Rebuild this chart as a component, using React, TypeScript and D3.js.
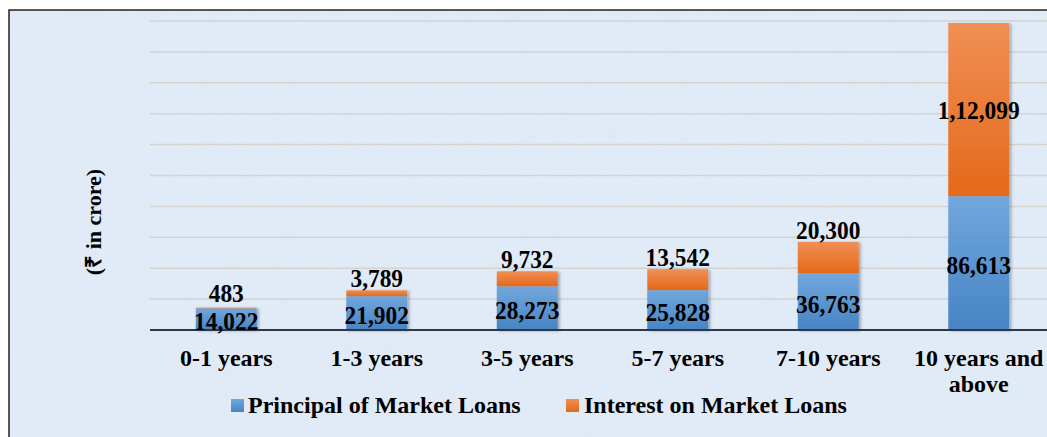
import React from "react";
import * as d3 from "d3";

const categories: string[][] = [
  ["0-1 years"],
  ["1-3 years"],
  ["3-5 years"],
  ["5-7 years"],
  ["7-10 years"],
  ["10 years and", "above"],
];
const principal: number[] = [14022, 21902, 28273, 25828, 36763, 86613];
const interest: number[] = [483, 3789, 9732, 13542, 20300, 112099];
const seriesNames: string[] = ["Principal of Market Loans", "Interest on Market Loans"];
const yTicks: number[] = [0, 20000, 40000, 60000, 80000, 100000, 120000, 140000, 160000, 180000, 200000];
const yTitle = "(₹ in crore)";

const W = 1047;
const H = 437;
const FONT = "'Liberation Serif', 'Times New Roman', serif";

function fmtIndian(v: number): string {
  const s = String(Math.round(v));
  if (s.length <= 3) return s;
  const last3 = s.slice(-3);
  let rest = s.slice(0, -3);
  const parts: string[] = [];
  while (rest.length > 2) {
    parts.unshift(rest.slice(-2));
    rest = rest.slice(0, -2);
  }
  if (rest.length) parts.unshift(rest);
  return parts.join(",") + "," + last3;
}

export default function App() {
  const keys = categories.map((c) => c.join(" "));
  const x = d3.scaleBand<string>().domain(keys).range([151, 1054]).padding(0);
  const y = d3.scaleLinear().domain([0, 200000]).range([330, 21]);
  const barW = x.bandwidth() * 0.405;

  return (
    <svg
      width={W}
      height={H}
      style={{ position: "absolute", left: 0, top: 0, display: "block" }}
      fontFamily={FONT}
    >
      <defs>
        <linearGradient id="gBlue" x1="0" y1="0" x2="0" y2="1">
          <stop offset="0%" stopColor="#72a7dd" />
          <stop offset="100%" stopColor="#4684c4" />
        </linearGradient>
        <linearGradient id="gOrange" x1="0" y1="0" x2="0" y2="1">
          <stop offset="0%" stopColor="#f08f55" />
          <stop offset="100%" stopColor="#e4691a" />
        </linearGradient>
        <filter id="tex" x="0" y="0" width="100%" height="100%">
          <feTurbulence type="fractalNoise" baseFrequency="0.05" numOctaves="4" seed="7" result="n" />
          <feColorMatrix
            in="n"
            type="matrix"
            values="0 0 0 0 0.74  0 0 0 0 0.82  0 0 0 0 0.92  0 0 0 -2.4 1.35"
            result="w"
          />
          <feComposite in="w" in2="SourceGraphic" operator="in" />
        </filter>
        <filter id="shadow" x="-20%" y="-20%" width="150%" height="140%">
          <feDropShadow dx="2" dy="1" stdDeviation="1.5" floodColor="#000" floodOpacity="0.3" />
        </filter>
      </defs>

      {/* background */}
      <rect x={0} y={0} width={W} height={H} fill="#ffffff" />
      <rect x={9} y={10} width={W} height={H} fill="#e0ebf7" />
      <rect x={9} y={10} width={W} height={H} fill="#e0ebf7" filter="url(#tex)" opacity={0.75} />
      <rect x={9} y={10} width={W + 20} height={H + 20} fill="none" stroke="#222" strokeWidth={1.5} />

      {/* gridlines */}
      {yTicks.slice(1).map((t) => (
        <line key={t} x1={150} x2={W} y1={y(t)} y2={y(t)} stroke="#d6d2cd" strokeWidth={1.5} />
      ))}

      {/* bars */}
      {keys.map((k, i) => {
        const cx = (x(k) as number) + x.bandwidth() / 2;
        const p = principal[i];
        const q = interest[i];
        return (
          <g key={k} filter="url(#shadow)">
            <rect x={cx - barW / 2} y={y(p)} width={barW} height={y(0) - y(p)} fill="url(#gBlue)" />
            <rect x={cx - barW / 2} y={y(p + q)} width={barW} height={y(p) - y(p + q)} fill="url(#gOrange)" />
          </g>
        );
      })}

      {/* baseline */}
      <line x1={150} x2={W} y1={y(0)} y2={y(0)} stroke="#2c3747" strokeWidth={2.2} />

      {/* data labels */}
      {keys.map((k, i) => {
        const cx = (x(k) as number) + x.bandwidth() / 2;
        const p = principal[i];
        const q = interest[i];
        const pc = (y(0) + y(p)) / 2 + 2;
        const segH = y(p) - y(p + q);
        const qc = segH > 60 ? (y(p) + y(p + q)) / 2 : Math.min(y(p + q) - 12, pc - 28);
        return (
          <g key={"l" + k} fontSize={26} fontWeight="bold" fill="#000" textAnchor="middle">
            <text x={cx} y={pc} dy="0.35em" transform={`translate(${cx},0) scale(0.9,1) translate(${-cx},0)`}>
              {fmtIndian(p)}
            </text>
            <text x={cx} y={qc} dy="0.35em" transform={`translate(${cx},0) scale(0.9,1) translate(${-cx},0)`}>
              {fmtIndian(q)}
            </text>
          </g>
        );
      })}

      {/* category labels */}
      {categories.map((lines, i) => {
        const cx = (x(keys[i]) as number) + x.bandwidth() / 2;
        return (
          <text key={"c" + i} x={cx} y={366} fontSize={24} fontWeight="bold" textAnchor="middle" fill="#000">
            {lines.map((ln, j) => (
              <tspan key={j} x={cx} dy={j === 0 ? 0 : 26}>
                {ln}
              </tspan>
            ))}
          </text>
        );
      })}

      {/* y title */}
      <text
        transform="translate(101,222) rotate(-90)"
        textAnchor="middle"
        fontSize={22}
        fontWeight="bold"
        fill="#000"
      >
        {yTitle}
      </text>

      {/* legend */}
      <g fontSize={24} fontWeight="bold" fill="#000">
        <rect x={231} y={399} width={13} height={13} fill="url(#gBlue)" />
        <text x={248} y={412.5}>{seriesNames[0]}</text>
        <rect x={566} y={399} width={13} height={13} fill="url(#gOrange)" />
        <text x={584} y={412.5}>{seriesNames[1]}</text>
      </g>
    </svg>
  );
}
